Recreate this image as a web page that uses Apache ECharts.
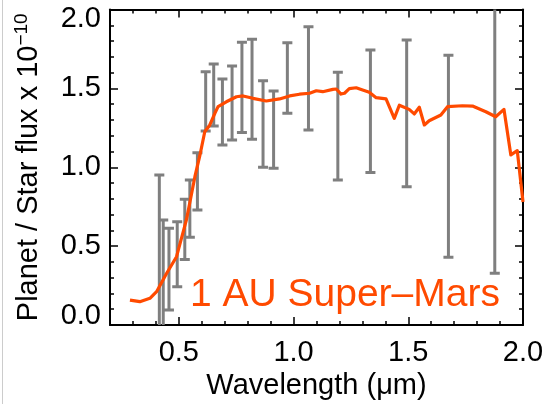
<!DOCTYPE html>
<html>
<head>
<meta charset="utf-8">
<script src="https://cdn.jsdelivr.net/npm/echarts@6/dist/echarts.min.js"></script>
<style>
  html, body { margin: 0; padding: 0; background: #fff; }
  #chart { width: 546px; height: 404px; }
  #edge { position: absolute; left: 2px; top: 0; width: 1px; height: 404px; background: #cccccc; }
</style>
</head>
<body>
<div id="chart"></div>
<div id="edge"></div>
<script>
// Model planet/star flux ratio (units of 1e-10) versus wavelength in microns
const modelWave = [0.287, 0.33, 0.374, 0.403, 0.447, 0.49, 0.533, 0.57, 0.591, 0.613, 0.635, 0.657, 0.671,
  0.707, 0.751, 0.78, 0.823, 0.881, 0.939, 0.983, 1.026, 1.07, 1.099, 1.127, 1.171, 1.186, 1.207, 1.222,
  1.243, 1.273, 1.301, 1.33, 1.36, 1.403, 1.439, 1.461, 1.504, 1.526, 1.548, 1.57, 1.591, 1.642, 1.671,
  1.736, 1.78, 1.838, 1.881, 1.917, 1.947, 1.975, 2.0];
const modelFlux = [0.158, 0.148, 0.169, 0.211, 0.328, 0.433, 0.666, 0.94, 1.07, 1.225, 1.268, 1.342, 1.384,
  1.415, 1.447, 1.452, 1.437, 1.42, 1.433, 1.452, 1.463, 1.469, 1.485, 1.479, 1.494, 1.496, 1.464, 1.469,
  1.498, 1.504, 1.49, 1.475, 1.441, 1.433, 1.31, 1.393, 1.367, 1.338, 1.38, 1.268, 1.295, 1.331, 1.384,
  1.39, 1.388, 1.352, 1.32, 1.367, 1.078, 1.105, 0.78];

// Binned observations: bin centre and lower / upper ends of each error bar
const binWave = [0.415, 0.432, 0.457, 0.493, 0.526, 0.548, 0.581, 0.617, 0.652, 0.690, 0.732, 0.775,
  0.819, 0.867, 0.913, 0.973, 1.065, 1.193, 1.335, 1.493, 1.675, 1.877];
const binLow = [-0.2, -0.2, 0.095, 0.243, 0.416, 0.556, 0.729, 1.23, 1.262, 1.141, 1.173, 1.221,
  1.177, 1.0, 0.993, 1.342, 1.236, 0.919, 0.966, 0.877, 0.429, 0.328];
const binHigh = [0.951, 0.666, 0.613, 0.655, 0.797, 0.919, 1.092, 1.606, 1.655, 1.559, 1.642, 1.792,
  1.811, 1.549, 1.483, 1.79, 1.891, 1.602, 1.743, 1.807, 1.71, 2.3];

const xTickLabels = ['0.5', '1.0', '1.5', '2.0'];
const yTickLabels = ['0.0', '0.5', '1.0', '1.5', '2.0'];
const annotation = '1 AU Super\u2013Mars';

const X_MIN = 0.2, X_MAX = 2.0, Y_MIN = 0, Y_MAX = 2.0;
const W = 546;
const LEFT = 110, RIGHT = 23, TOP = 9.5, BOTTOM = 79;
const plotW = W - LEFT - RIGHT;
// grid carrying the labelled x ticks starts at 0.5 micron
const majorLeft = LEFT + (0.5 - X_MIN) / (X_MAX - X_MIN) * plotW;

const FONT = '"Liberation Sans", Arial, Helvetica, sans-serif';
const ORANGE = '#ff4a00';
const GREY = '#7f7f7f';
const BLACK = '#000';

const pick = (labels) => (v) => {
  const s = Number(v).toFixed(1);
  return labels.indexOf(s) >= 0 ? s : '';
};

function minorX(pos, extra) {
  return Object.assign({
    gridIndex: 0, type: 'value', position: pos, min: X_MIN, max: X_MAX, interval: 0.1,
    axisLine: { show: true, onZero: false, lineStyle: { color: BLACK, width: 2 } },
    axisTick: { show: true, inside: true, length: 4, lineStyle: { color: BLACK, width: 1.5 } },
    axisLabel: { show: false }, splitLine: { show: false }
  }, extra || {});
}
function majorX(pos, extra) {
  return Object.assign({
    gridIndex: 1, type: 'value', position: pos, min: 0.5, max: X_MAX, interval: 0.5,
    axisLine: { show: false, onZero: false },
    axisTick: { show: true, inside: true, length: 8, lineStyle: { color: BLACK, width: 1.5 } },
    axisLabel: { show: false }, splitLine: { show: false }
  }, extra || {});
}
function minorY(pos) {
  return {
    gridIndex: 0, type: 'value', position: pos, min: Y_MIN, max: Y_MAX, interval: 0.1,
    axisLine: { show: true, onZero: false, lineStyle: { color: BLACK, width: 2 } },
    axisTick: { show: true, inside: true, length: 4, lineStyle: { color: BLACK, width: 1.5 } },
    axisLabel: { show: false }, splitLine: { show: false }
  };
}
function majorY(pos, extra) {
  return Object.assign({
    gridIndex: 2, type: 'value', position: pos, min: Y_MIN, max: Y_MAX, interval: 0.5,
    axisLine: { show: false, onZero: false },
    axisTick: { show: true, inside: true, length: 8, lineStyle: { color: BLACK, width: 1.5 } },
    axisLabel: { show: false }, splitLine: { show: false }
  }, extra || {});
}

const gridBox = { top: TOP, bottom: BOTTOM, right: RIGHT, outerBoundsMode: 'none' };

const chart = echarts.init(document.getElementById('chart'), null, { renderer: 'canvas' });
chart.setOption({
  animation: false,
  backgroundColor: '#fff',
  grid: [
    Object.assign({ left: LEFT }, gridBox),
    Object.assign({ left: majorLeft }, gridBox),
    Object.assign({ left: LEFT }, gridBox)
  ],
  xAxis: [
    minorX('bottom', {
      name: 'Wavelength (\u03bcm)', nameLocation: 'middle', nameGap: 46,
      nameTextStyle: { fontSize: 29, color: BLACK, fontFamily: FONT }
    }),
    minorX('top'),
    majorX('bottom', {
      axisLabel: { show: true, fontSize: 29, color: BLACK, fontFamily: FONT, margin: 13, formatter: pick(xTickLabels) }
    }),
    majorX('top'),
    { gridIndex: 2, type: 'value', show: false, min: X_MIN, max: X_MAX }
  ],
  yAxis: [
    minorY('left'),
    minorY('right'),
    { gridIndex: 1, type: 'value', show: false, min: Y_MIN, max: Y_MAX },
    majorY('left', {
      axisLabel: {
        show: true, fontSize: 29, lineHeight: 18, color: BLACK, fontFamily: FONT, margin: 9,
        formatter: pick(yTickLabels),
        verticalAlignMinLabel: 'bottom', verticalAlignMaxLabel: 'top'
      },
      name: 'Planet / Star flux x 10{sup|\u221210}',
      nameLocation: 'middle', nameRotate: 90, nameGap: 64,
      nameTextStyle: {
        fontSize: 29, color: BLACK, fontFamily: FONT, lineHeight: 34,
        rich: { sup: { fontSize: 19, color: BLACK, fontFamily: FONT, verticalAlign: 'top', lineHeight: 20 } }
      }
    }),
    majorY('right')
  ],
  graphic: [{
    type: 'text', left: 190, top: 276, z: 10,
    style: { text: annotation, fontSize: 39, fontFamily: FONT, fill: ORANGE }
  }],
  series: [
    {
      type: 'custom', name: 'binned', xAxisIndex: 0, yAxisIndex: 0, z: 2,
      encode: { x: 0, y: [1, 2] },
      data: binWave.map((w, i) => [w, binLow[i], binHigh[i]]),
      renderItem(params, api) {
        const lo = api.coord([api.value(0), api.value(1)]);
        const hi = api.coord([api.value(0), api.value(2)]);
        const half = 5;
        const style = { stroke: GREY, lineWidth: 3, fill: null };
        const cs = params.coordSys;
        return {
          type: 'group',
          clipPath: { type: 'rect', shape: { x: cs.x, y: cs.y, width: cs.width, height: cs.height } },
          children: [
            { type: 'line', shape: { x1: lo[0], y1: lo[1], x2: hi[0], y2: hi[1] }, style },
            { type: 'line', shape: { x1: lo[0] - half, y1: lo[1], x2: lo[0] + half, y2: lo[1] }, style },
            { type: 'line', shape: { x1: hi[0] - half, y1: hi[1], x2: hi[0] + half, y2: hi[1] }, style }
          ]
        };
      }
    },
    {
      type: 'line', name: 'model', xAxisIndex: 0, yAxisIndex: 0, z: 3,
      data: modelWave.map((w, i) => [w, modelFlux[i]]),
      showSymbol: false, symbol: 'none', clip: true,
      lineStyle: { color: ORANGE, width: 3.2, join: 'round' }
    }
  ]
});
</script>
</body>
</html>
